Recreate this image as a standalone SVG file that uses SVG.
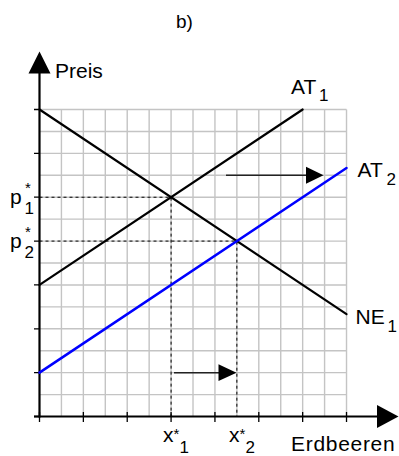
<svg xmlns="http://www.w3.org/2000/svg" width="399" height="456" viewBox="0 0 399 456">
<style>
  .grid { stroke: #c4c4c4; stroke-width: 1.4; fill: none; }
  .axis { stroke: #000; stroke-width: 2.2; fill: none; }
  .tick { stroke: #000; stroke-width: 1.3; fill: none; }
  .curve { stroke: #000; stroke-width: 2.2; fill: none; stroke-linecap: round; }
  .blue { stroke: #0000ff; stroke-width: 2.5; fill: none; stroke-linecap: round; }
  .dash { stroke: #000; stroke-width: 1; fill: none; stroke-dasharray: 3 3; }
  .shift { stroke: #222; stroke-width: 1.5; fill: none; }
  .head { fill: #000; }
  text { font-family: "Liberation Sans", Arial, sans-serif; fill: #000; }
  .lbl { font-size: 21px; }
  .sub { font-size: 17px; }
  .sup { font-size: 15px; }
</style>
<rect width="399" height="456" fill="#fff"/>
<g id="grid">
  <path class="grid" d="M61.43 109.5V416.5M83.36 109.5V416.5M105.29 109.5V416.5M127.22 109.5V416.5M149.15 109.5V416.5M171.08 109.5V416.5M193.01 109.5V416.5M214.94 109.5V416.5M236.87 109.5V416.5M258.8 109.5V416.5M280.73 109.5V416.5M302.66 109.5V416.5M324.59 109.5V416.5M346.52 109.5V416.5"/>
  <path class="grid" d="M39.5 109.5H346.52M39.5 131.43H346.52M39.5 153.36H346.52M39.5 175.29H346.52M39.5 197.22H346.52M39.5 219.15H346.52M39.5 241.08H346.52M39.5 263.01H346.52M39.5 284.94H346.52M39.5 306.87H346.52M39.5 328.8H346.52M39.5 350.73H346.52M39.5 372.66H346.52M39.5 394.59H346.52"/>
</g>
<g id="axes">
  <path class="tick" d="M34 109.5H39.5M34 153.36H39.5M34 197.22H39.5M34 241.08H39.5M34 284.94H39.5M34 328.8H39.5M34 372.66H39.5M34 416.5H39.5"/>
  <path class="tick" d="M39.5 412V422M83.36 412V422M127.22 412V422M171.08 412V422M214.94 412V422M258.8 412V422M302.66 412V422M346.52 412V422"/>
  <path class="axis" d="M39.5 417.5V72"/>
  <polygon class="head" points="39.5,51.5 28.5,73.5 50.5,73.5"/>
  <path class="axis" d="M34 416.5H378"/>
  <polygon class="head" points="398.5,416.5 377,405 377,428"/>
</g>
<g id="connectors">
  <path class="dash" d="M39.5 197.22H171.08V416.5"/>
  <path class="dash" d="M39.5 241.08H236.87V416.5"/>
  <path class="shift" d="M226 175.29H308"/>
  <polygon class="head" points="323.5,175.29 306,166.8 306,183.8"/>
  <path class="shift" d="M174 372.66H220"/>
  <polygon class="head" points="236.5,372.66 218.5,364.3 218.5,381"/>
</g>
<g id="NE1">
  <path class="curve" d="M39.5 109.5L346.52 314.18"/>
  <text class="lbl" x="355.5" y="324">NE<tspan class="sub" x="387.5" y="331.5">1</tspan></text>
</g>
<g id="AT1">
  <path class="curve" d="M39.5 284.94L302.66 109.5"/>
  <text class="lbl" x="291" y="93.5">AT<tspan class="sub" x="319" y="100.5">1</tspan></text>
</g>
<g id="AT2">
  <path class="blue" d="M39.5 372.66L346.52 167.98"/>
  <text class="lbl" x="357.5" y="177">AT<tspan class="sub" x="386.5" y="185">2</tspan></text>
</g>
<g id="labels">
  <text x="176" y="28" style="font-size:19px">b)</text>
  <text class="lbl" x="55" y="78">Preis</text>
  <text class="lbl" x="10" y="204">p<tspan class="sup" x="25" y="192.5">*</tspan><tspan class="sub" x="24.5" y="213.5">1</tspan></text>
  <text class="lbl" x="10" y="248">p<tspan class="sup" x="25" y="236.5">*</tspan><tspan class="sub" x="24.5" y="257.5">2</tspan></text>
  <text class="lbl" x="163" y="442">x<tspan class="sup" x="173.5" y="438.5">*</tspan><tspan class="sub" x="179.4" y="452.5">1</tspan></text>
  <text class="lbl" x="229" y="442">x<tspan class="sup" x="239.5" y="438.5">*</tspan><tspan class="sub" x="245.4" y="452.5">2</tspan></text>
  <text class="lbl" x="291" y="450.5" style="letter-spacing:0.7px">Erdbeeren</text>
</g>
</svg>
